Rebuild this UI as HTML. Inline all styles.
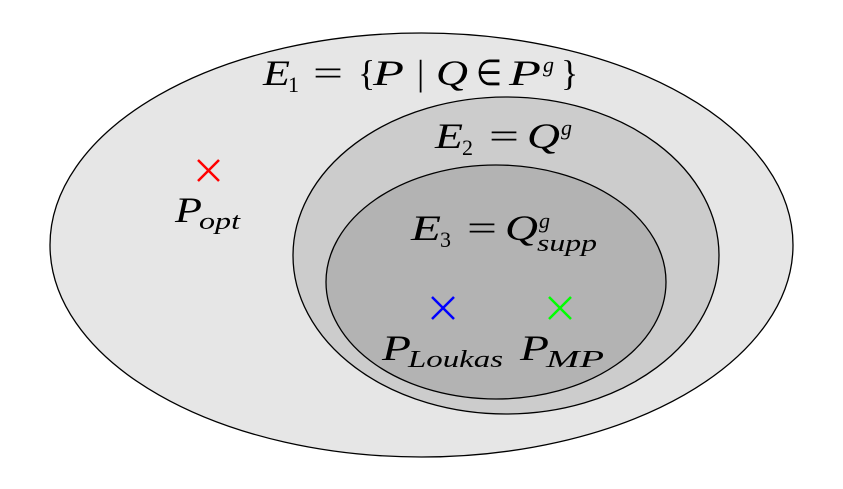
<!DOCTYPE html>
<html><head><meta charset="utf-8"><style>
html,body{margin:0;padding:0;background:#fff;}
svg text{font-family:"Liberation Serif",serif;fill:#000;}
.i{font-style:italic;}
</style></head><body>
<svg width="843" height="484" viewBox="0 0 843 484" xmlns="http://www.w3.org/2000/svg">
<ellipse cx="421.5" cy="245" rx="371.5" ry="212" fill="#e6e6e6" stroke="#000" stroke-width="1.3"/>
<ellipse cx="506" cy="255.5" rx="213" ry="158.5" fill="#cccccc" stroke="#000" stroke-width="1.3"/>
<ellipse cx="496" cy="282" rx="170" ry="117" fill="#b3b3b3" stroke="#000" stroke-width="1.3"/>

<g font-size="36">
<text x="263" y="85" class="i" textLength="27" lengthAdjust="spacingAndGlyphs">E</text>
<text x="288" y="92" font-size="22">1</text>
<text x="313" y="85" textLength="30" lengthAdjust="spacingAndGlyphs">=</text>
<text x="358" y="85">{</text>
<text x="373" y="85" class="i" textLength="31" lengthAdjust="spacingAndGlyphs">P</text>
<text x="417" y="85">|</text>
<text x="436" y="85" class="i" textLength="32" lengthAdjust="spacingAndGlyphs">Q</text>
<text x="476" y="85" textLength="26" lengthAdjust="spacingAndGlyphs">∈</text>
<text x="509" y="85" class="i" textLength="32" lengthAdjust="spacingAndGlyphs">P</text>
<text x="543" y="72" font-size="22" class="i">g</text>
<text x="561" y="85">}</text>

<text x="435" y="148" class="i" textLength="28" lengthAdjust="spacingAndGlyphs">E</text>
<text x="462" y="155" font-size="22">2</text>
<text x="489" y="148" textLength="30" lengthAdjust="spacingAndGlyphs">=</text>
<text x="527" y="148" class="i" textLength="33" lengthAdjust="spacingAndGlyphs">Q</text>
<text x="561" y="135" font-size="22" class="i">g</text>

<text x="411" y="240" class="i" textLength="30" lengthAdjust="spacingAndGlyphs">E</text>
<text x="440" y="247" font-size="22">3</text>
<text x="467" y="240" textLength="30" lengthAdjust="spacingAndGlyphs">=</text>
<text x="505" y="240" class="i" textLength="33" lengthAdjust="spacingAndGlyphs">Q</text>
<text x="539" y="228" font-size="22" class="i">g</text>
<text x="537" y="251" font-size="24" class="i" textLength="60" lengthAdjust="spacingAndGlyphs">supp</text>

<text x="175" y="222" class="i" textLength="27" lengthAdjust="spacingAndGlyphs">P</text>
<text x="199" y="229" font-size="24" class="i" textLength="41" lengthAdjust="spacingAndGlyphs">opt</text>
<text x="382" y="360" class="i" textLength="29" lengthAdjust="spacingAndGlyphs">P</text>
<text x="408" y="367" font-size="24" class="i" textLength="95" lengthAdjust="spacingAndGlyphs">Loukas</text>
<text x="520" y="360" class="i" textLength="29" lengthAdjust="spacingAndGlyphs">P</text>
<text x="546" y="367" font-size="24" class="i" textLength="58" lengthAdjust="spacingAndGlyphs">MP</text>
</g>

<g stroke-width="2.5">
<path d="M198 160 L219 181 M219 160 L198 181" stroke="#ff0000"/>
<path d="M432 297 L454 319 M454 297 L432 319" stroke="#0000ff"/>
<path d="M549 297 L571 319 M571 297 L549 319" stroke="#00ff00"/>
</g>
</svg>
</body></html>
